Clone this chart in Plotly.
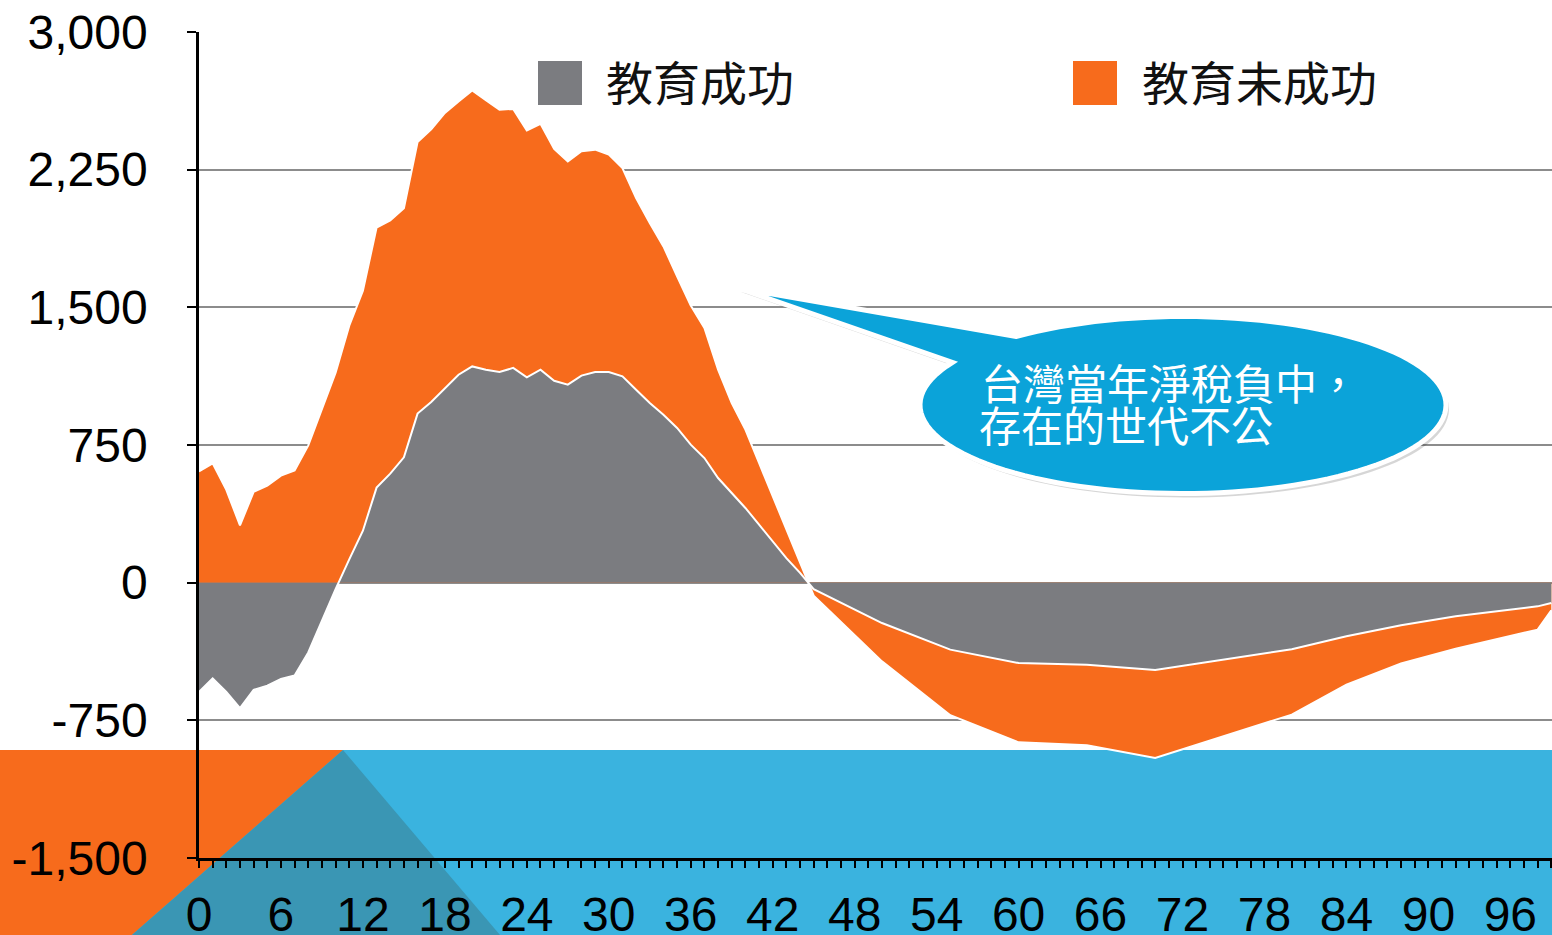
import math
import plotly.graph_objects as go

# ---------------- data ----------------
ages = list(range(0, 45)) + [45, 50, 55, 60, 65, 70, 80, 84, 88, 92, 96, 98, 99]

# 教育成功 (gray)
edu_success = [-595, -522, -595, -684, -584, -561, -524, -506, -380, -205,
               -35, 127, 283, 518, 594, 683, 921, 984, 1061, 1133,
               1178, 1160, 1148, 1170, 1119, 1160, 1100, 1079, 1128, 1148,
               1148, 1124, 1051, 979, 915, 843, 752, 679, 570, 489,
               407, 316, 225, 134, 53,
               -35, -220, -365, -438, -447, -476, -363, -292, -232, -183, -147, -129, -111]

# 教育未成功 (orange)
edu_fail = [606, 650, 506, 312, 495, 528, 583, 612, 748, 944,
            1144, 1400, 1590, 1935, 1973, 2040, 2400, 2470, 2559, 2622,
            2682, 2628, 2577, 2581, 2464, 2500, 2363, 2295, 2350, 2359,
            2332, 2259, 2096, 1960, 1832, 1669, 1510, 1388, 1160, 979,
            834, 652, 470, 289, 107,
            -71, -429, -722, -870, -886, -955, -719, -556, -440, -360, -290, -256, -150]

series_names = ["教育成功", "教育未成功"]
x_tick_vals = [0, 6, 12, 18, 24, 30, 36, 42, 48, 54, 60, 66, 72, 78, 84, 90, 96]
x_tick_text = ["0", "6", "12", "18", "24", "30", "36", "42", "48", "54",
               "60", "66", "72", "78", "84", "90", "96"]
y_tick_vals = [-1500, -750, 0, 750, 1500, 2250, 3000]
y_tick_text = ["-1,500", "-750", "0", "750", "1,500", "2,250", "3,000"]
callout_lines = ["台灣當年淨稅負中，", "存在的世代不公"]

# ---------------- styles ----------------
GRAY = "#7B7C80"
ORANGE = "#F76B1C"
CALLOUT_BLUE = "#0BA3D9"
BANNER_BLUE = "#3AB3DF"
BANNER_DARK = "#3A96B4"
GRID = "#8C8C8C"
NUM_FONT = "Liberation Sans, Arial, sans-serif"
CJK_FONT = "Noto Sans CJK TC, Noto Sans CJK SC, sans-serif"

W, H = 1552, 935
ML, MR, MT, MB = 199, 0, 32, 77
PW, PH = W - ML - MR, H - MT - MB


def xp(px):
    return (px - ML) / PW


def yp(py):
    return (H - MB - py) / PH


fig = go.Figure()
fig.add_trace(go.Scatter(x=ages, y=edu_fail, name=series_names[1], mode="lines",
                         fill="tozeroy", fillcolor=ORANGE,
                         line=dict(color="white", width=2), showlegend=False))
fig.add_trace(go.Scatter(x=ages, y=edu_success, name=series_names[0], mode="lines",
                         fill="tozeroy", fillcolor=GRAY,
                         line=dict(color="white", width=2), showlegend=False))

shapes = []
# bottom banner (decorative, below the data)
shapes.append(dict(type="rect", xref="paper", yref="paper", layer="below",
                   x0=xp(0), x1=xp(W), y0=yp(H), y1=yp(750),
                   fillcolor=BANNER_BLUE, line=dict(width=0)))
pts = [(0, 750), (343, 750), (132, H), (0, H)]
shapes.append(dict(type="path", xref="paper", yref="paper", layer="below",
                   path="M " + " L ".join(f"{xp(a):.5f},{yp(b):.5f}" for a, b in pts) + " Z",
                   fillcolor=ORANGE, line=dict(width=0)))
pts = [(343, 750), (132, H), (500, H)]
shapes.append(dict(type="path", xref="paper", yref="paper", layer="below",
                   path="M " + " L ".join(f"{xp(a):.5f},{yp(b):.5f}" for a, b in pts) + " Z",
                   fillcolor=BANNER_DARK, line=dict(width=0)))

# callout bubble
cx, cy, rx, ry = 1183, 405, 263, 88.5
tip = (738, 288)
b1 = (1020, 338)
b2 = (950, 362)
t1 = math.atan2((b1[1] - cy) / ry, (b1[0] - cx) / rx)
t2 = math.atan2((b2[1] - cy) / ry, (b2[0] - cx) / rx)


def bubble(dx=0, dy=0):
    p = [(cx + rx * math.cos(t1) + dx, cy + ry * math.sin(t1) + dy),
         (tip[0] + dx, tip[1] + dy)]
    n = 120
    end = t1 - 2 * math.pi
    for i in range(n + 1):
        t = t2 + (end - t2) * i / n
        p.append((cx + rx * math.cos(t) + dx, cy + ry * math.sin(t) + dy))
    return "M " + " L ".join(f"{xp(a):.5f},{yp(b):.5f}" for a, b in p) + " Z"


shapes.append(dict(type="path", xref="paper", yref="paper", layer="above",
                   path=bubble(3, 4), fillcolor="rgba(0,0,0,0.16)", line=dict(width=0)))
shapes.append(dict(type="path", xref="paper", yref="paper", layer="above",
                   path=bubble(), fillcolor=CALLOUT_BLUE,
                   line=dict(color="white", width=5)))

# legend squares
shapes.append(dict(type="rect", xref="paper", yref="paper", layer="above",
                   x0=xp(538), x1=xp(582), y0=yp(105), y1=yp(61),
                   fillcolor=GRAY, line=dict(width=0)))
shapes.append(dict(type="rect", xref="paper", yref="paper", layer="above",
                   x0=xp(1073), x1=xp(1117), y0=yp(105), y1=yp(61),
                   fillcolor=ORANGE, line=dict(width=0)))

annotations = [
    dict(xref="paper", yref="paper", x=xp(604), y=yp(81), xanchor="left", yanchor="middle",
         text=series_names[0], showarrow=False, font=dict(family=CJK_FONT, size=47, color="#111111")),
    dict(xref="paper", yref="paper", x=xp(1140), y=yp(81), xanchor="left", yanchor="middle",
         text=series_names[1], showarrow=False, font=dict(family=CJK_FONT, size=47, color="#111111")),
    dict(xref="paper", yref="paper", x=xp(979), y=yp(381), xanchor="left", yanchor="middle",
         text=callout_lines[0], showarrow=False, font=dict(family=CJK_FONT, size=42, color="white")),
    dict(xref="paper", yref="paper", x=xp(977), y=yp(424), xanchor="left", yanchor="middle",
         text=callout_lines[1], showarrow=False, font=dict(family=CJK_FONT, size=42, color="white")),
]

fig.update_layout(
    width=W, height=H,
    margin=dict(l=ML, r=MR, t=MT, b=MB, pad=0, autoexpand=False),
    paper_bgcolor="white", plot_bgcolor="rgba(0,0,0,0)",
    showlegend=False,
    shapes=shapes, annotations=annotations,
    xaxis=dict(range=[0, 99.05], showgrid=False, zeroline=False, automargin=False,
               showline=True, linecolor="black", linewidth=2.5,
               tickmode="array", tickvals=x_tick_vals, ticktext=x_tick_text,
               ticks="outside", ticklen=7, tickwidth=2, tickcolor="black",
               minor=dict(ticks="outside", tickmode="linear", tick0=0, dtick=1,
                          ticklen=7, tickwidth=2, tickcolor="black", showgrid=False),
               tickfont=dict(family=NUM_FONT, size=48, color="black"),
               ticklabelstandoff=6),
    yaxis=dict(range=[-1500, 3000], showgrid=True, gridcolor=GRID, gridwidth=2,
               zeroline=False, automargin=False, showline=True, linecolor="black", linewidth=2.5,
               tickmode="array", tickvals=y_tick_vals, ticktext=y_tick_text,
               ticks="outside", ticklen=9, tickwidth=2, tickcolor="black",
               tickfont=dict(family=NUM_FONT, size=48, color="black"),
               ticklabelstandoff=30),
)

page_fix = (
    "var h=document.documentElement,b=document.body;"
    "[h,b].forEach(function(e){e.style.margin='0';e.style.padding='0';"
    "e.style.overflow='hidden';});"
)

fig.write_html("out.html", config={"displayModeBar": False}, post_script=page_fix)
